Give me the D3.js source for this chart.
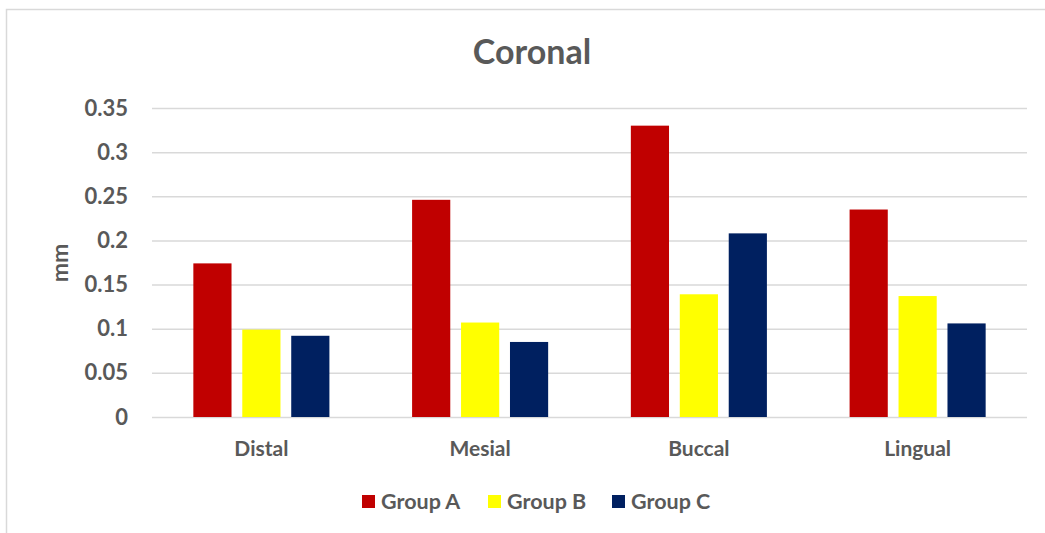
<!DOCTYPE html>
<html>
<head>
<meta charset="utf-8">
<script src="https://cdn.jsdelivr.net/npm/d3@7/dist/d3.min.js"></script>
<style>
  html, body { margin: 0; padding: 0; background: #fff; }
  svg { display: block; }
  text { font-family: Lato, "Open Sans", sans-serif; font-weight: bold; fill: #595959; }
</style>
</head>
<body>
<svg id="chart" width="1045" height="533"></svg>
<script>
// Mean coronal displacement (mm) per surface and group
const categories = ["Distal", "Mesial", "Buccal", "Lingual"];
const groups = ["Group A", "Group B", "Group C"];
const groupA = [0.174, 0.246, 0.330, 0.235];
const groupB = [0.099, 0.107, 0.139, 0.137];
const groupC = [0.092, 0.085, 0.208, 0.106];
const colors = ["#c00000", "#ffff00", "#002060"];
const yTicks = [0, 0.05, 0.1, 0.15, 0.2, 0.25, 0.3, 0.35];
const tickLabels = ["0", "0.05", "0.1", "0.15", "0.2", "0.25", "0.3", "0.35"];

const series = [groupA, groupB, groupC];

const W = 1045, H = 533;
const plot = { left: 152, right: 1027, top: 108, bottom: 417 };

const svg = d3.select("#chart");

// chart frame
svg.append("rect")
  .attr("x", 6.5).attr("y", 9.5)
  .attr("width", W + 20).attr("height", H + 20)
  .attr("fill", "#fff").attr("stroke", "#d9d9d9").attr("stroke-width", 1.5);

const x0 = d3.scaleBand().domain(categories).range([plot.left, plot.right]).paddingInner(0.378).paddingOuter(0.189);
const x1 = d3.scaleBand().domain(groups).range([0, x0.bandwidth()]).paddingInner(0.22);
const y = d3.scaleLinear().domain([0, 0.35]).range([plot.bottom, plot.top]);

// gridlines and value labels
const yAxis = d3.axisLeft(y).tickValues(yTicks)
  .tickSize(-(plot.right - plot.left))
  .tickPadding(24)
  .tickFormat((d, i) => tickLabels[i]);

const gy = svg.append("g").attr("transform", `translate(${plot.left},0)`).call(yAxis);
gy.select(".domain").remove();
gy.selectAll(".tick line").attr("stroke", "#d9d9d9").attr("stroke-width", 1.5);
gy.selectAll(".tick text").attr("font-size", 22).attr("fill", "#595959")
  .style("font-family", "Lato, sans-serif").style("font-weight", "bold");

// bars
const g = svg.append("g");
categories.forEach((c, ci) => {
  series.forEach((s, si) => {
    g.append("rect")
      .attr("x", x0(c) + x1(groups[si]))
      .attr("y", y(s[ci]))
      .attr("width", x1.bandwidth())
      .attr("height", y(0) - y(s[ci]))
      .attr("fill", colors[si]);
  });
});

// category axis labels
const xAxis = d3.axisBottom(x0).tickSize(0).tickPadding(24);
const gx = svg.append("g").attr("transform", `translate(0,${plot.bottom})`).call(xAxis);
gx.select(".domain").remove();
gx.selectAll(".tick text").attr("font-size", 21).attr("fill", "#595959")
  .style("font-family", "Lato, sans-serif").style("font-weight", "bold");

// title
svg.append("text")
  .attr("x", 532).attr("y", 64)
  .attr("text-anchor", "middle")
  .attr("font-size", 34)
  .text("Coronal");

// y-axis title
svg.append("text")
  .attr("transform", `translate(68,263) rotate(-90)`)
  .attr("text-anchor", "middle")
  .attr("font-size", 23)
  .text("mm");

// legend
const legendX = [362, 488, 612];
const legend = svg.append("g");
groups.forEach((gname, i) => {
  const item = legend.append("g").attr("transform", `translate(${legendX[i]},495)`);
  item.append("rect").attr("width", 13).attr("height", 13).attr("fill", colors[i]);
  item.append("text").attr("x", 19).attr("y", 13.5).attr("font-size", 21.5).text(gname);
});
</script>
</body>
</html>
